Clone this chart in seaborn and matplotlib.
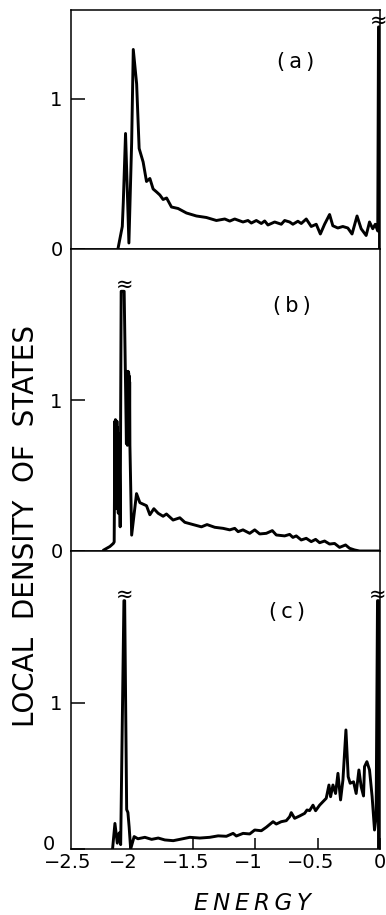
import matplotlib
matplotlib.use("Agg")
import matplotlib.pyplot as plt
import matplotlib.transforms as mtrans
import pandas as pd
import seaborn as sns

sns.set_theme(style="white")
plt.rcParams['font.family'] = ['DejaVu Sans']
plt.rcParams['text.color'] = 'black'
plt.rcParams['axes.labelcolor'] = 'black'
plt.rcParams['xtick.color'] = 'black'
plt.rcParams['ytick.color'] = 'black'

# ---------------- data ----------------
energy_a = [-2.100, -2.065, -2.057, -2.039, -2.012, -1.990, -1.977, -1.950, -1.930, -1.898,
            -1.871, -1.844, -1.818, -1.790, -1.764, -1.738, -1.710, -1.671, -1.618, -1.551,
            -1.471, -1.391, -1.311, -1.244, -1.204, -1.164, -1.098, -1.058, -1.031, -0.991,
            -0.951, -0.924, -0.898, -0.844, -0.791, -0.764, -0.724, -0.698, -0.658, -0.631,
            -0.591, -0.551, -0.511, -0.478, -0.444, -0.404, -0.378, -0.338, -0.298, -0.258,
            -0.224, -0.184, -0.151, -0.111, -0.084, -0.058, -0.038, -0.018, -0.012, -0.004,
            -0.004]
dos_a = [0.0, 0.15, 0.31, 0.77, 0.04, 0.71, 1.33, 1.10, 0.67, 0.58,
         0.45, 0.47, 0.40, 0.38, 0.36, 0.33, 0.34, 0.28, 0.27, 0.24,
         0.22, 0.21, 0.19, 0.20, 0.186, 0.20, 0.18, 0.19, 0.173, 0.19,
         0.17, 0.187, 0.16, 0.18, 0.165, 0.19, 0.18, 0.165, 0.185, 0.17,
         0.20, 0.15, 0.165, 0.10, 0.165, 0.23, 0.155, 0.14, 0.15, 0.14,
         0.10, 0.22, 0.135, 0.09, 0.18, 0.135, 0.165, 0.12, 1.48, 1.48,
         0.0]

energy_b = [-2.217, -2.164, -2.137, -2.130, -2.124, -2.122, -2.120, -2.118, -2.116, -2.114,
            -2.112, -2.110, -2.108, -2.106, -2.104, -2.102, -2.100, -2.097, -2.094, -2.091,
            -2.088, -2.082, -2.074, -2.050, -2.032, -2.030, -2.028, -2.026, -2.024, -2.022,
            -2.020, -2.018, -2.016, -2.014, -2.012, -2.010, -2.008, -2.006, -2.004, -1.990,
            -1.951, -1.924, -1.871, -1.844, -1.812, -1.778, -1.738, -1.711, -1.658, -1.604,
            -1.564, -1.498, -1.431, -1.386, -1.324, -1.257, -1.204, -1.164, -1.137, -1.098,
            -1.044, -1.004, -0.964, -0.911, -0.863, -0.831, -0.764, -0.724, -0.698, -0.671,
            -0.631, -0.591, -0.551, -0.516, -0.484, -0.444, -0.404, -0.364, -0.324, -0.276,
            -0.244, -0.204, -0.164, 0.0]
dos_b = [0.005, 0.03, 0.05, 0.06, 0.86, 0.35, 0.87, 0.30, 0.85, 0.28,
         0.84, 0.32, 0.86, 0.30, 0.82, 0.32, 0.78, 0.25, 0.72, 0.30,
         0.60, 0.16, 1.72, 1.72, 0.71, 1.19, 0.72, 1.18, 0.70, 1.17,
         0.72, 1.19, 0.74, 1.18, 0.72, 1.16, 0.75, 1.12, 0.70, 0.105,
         0.38, 0.32, 0.30, 0.24, 0.28, 0.25, 0.23, 0.245, 0.205, 0.22,
         0.19, 0.175, 0.16, 0.175, 0.157, 0.15, 0.14, 0.15, 0.128, 0.14,
         0.117, 0.14, 0.113, 0.117, 0.135, 0.106, 0.10, 0.11, 0.09, 0.10,
         0.073, 0.084, 0.062, 0.077, 0.055, 0.066, 0.046, 0.05, 0.024, 0.04,
         0.018, 0.007, 0.0, 0.0]

energy_c = [-2.143, -2.124, -2.105, -2.090, -2.078, -2.052, -2.046, -2.030, -2.020, -2.010,
            -1.998, -1.970, -1.940, -1.884, -1.830, -1.777, -1.724, -1.657, -1.604, -1.524,
            -1.444, -1.364, -1.297, -1.231, -1.177, -1.151, -1.097, -1.044, -1.004, -0.951,
            -0.911, -0.857, -0.831, -0.791, -0.751, -0.724, -0.711, -0.684, -0.644, -0.604,
            -0.585, -0.564, -0.537, -0.516, -0.484, -0.457, -0.431, -0.409, -0.396, -0.377,
            -0.356, -0.337, -0.316, -0.297, -0.273, -0.255, -0.239, -0.212, -0.191, -0.169,
            -0.151, -0.132, -0.124, -0.105, -0.084, -0.063, -0.044, -0.031, -0.020, -0.012,
            -0.012]
dos_c = [0.0, 0.175, 0.04, 0.11, 0.03, 1.70, 1.70, 0.27, 0.25, 0.15,
         0.0, 0.085, 0.07, 0.08, 0.066, 0.075, 0.062, 0.057, 0.066, 0.08,
         0.075, 0.08, 0.09, 0.087, 0.107, 0.089, 0.107, 0.103, 0.13, 0.125,
         0.149, 0.187, 0.171, 0.187, 0.194, 0.221, 0.249, 0.21, 0.226, 0.244,
         0.267, 0.263, 0.30, 0.262, 0.30, 0.324, 0.347, 0.438, 0.358, 0.438,
         0.38, 0.518, 0.336, 0.473, 0.815, 0.495, 0.45, 0.46, 0.38, 0.541,
         0.427, 0.363, 0.564, 0.598, 0.541, 0.358, 0.13, 0.221, 1.70, 1.70,
         0.0]

panel_names = ["(\u2009a\u2009)", "(\u2009b\u2009)", "(\u2009c\u2009)"]
xtick_values = [-2.0, -1.5, -1.0, -0.5, 0.0]
xtick_labels = ["\u22122", "\u22121.5", "\u22121", "\u22120.5", "0"]
ytick_values = [0, 1]
ytick_labels = ["0", "1"]

# ---------------- layout ----------------
W, H = 386, 915
fig = plt.figure(figsize=(W / 100, H / 100), dpi=100)

left_px, right_px = 71, 380
panels_px = [(10, 249, 1.593), (249, 551, 2.0), (551, 849, 2.04)]
xmin = -2.476

series = [(energy_a, dos_a), (energy_b, dos_b), (energy_c, dos_c)]
label_pos = [(-0.676, 1.247), (-0.708, 1.62), (-0.748, 1.62)]
breaks = [[(-0.012, 1.52)], [(-2.046, 1.76)], [(-2.048, 1.74), (-0.02, 1.74)]]

axes = []
for i, ((top, bot, ymax), (ex, dy)) in enumerate(zip(panels_px, series)):
    ax = fig.add_axes([left_px / W, 1 - bot / H, (right_px - left_px) / W, (bot - top) / H])
    df = pd.DataFrame({"energy": ex, "dos": dy})
    sns.lineplot(data=df, x="energy", y="dos", ax=ax, color="black", linewidth=2.1,
                 sort=False, estimator=None)
    ax.set_xlim(xmin, 0.0)
    ax.set_ylim(0, ymax)
    ax.set_xlabel("")
    ax.set_ylabel("")
    for sp in ax.spines.values():
        sp.set_color("black")
        sp.set_linewidth(1.1)
        sp.set_visible(True)
    ax.set_yticks(ytick_values)
    ax.set_yticklabels(ytick_labels)
    ax.tick_params(axis="y", direction="in", length=10, width=1.1, pad=6,
                   labelsize=14, colors="black", left=True)
    if i < 2:
        ax.set_xticks(xtick_values)
        ax.tick_params(axis="x", length=0, labelbottom=False)
    else:
        ax.set_xticks(xtick_values)
        ax.set_xticklabels(xtick_labels)
        ax.tick_params(axis="x", direction="in", length=8, width=1.1, pad=3,
                       labelsize=14, colors="black", bottom=True)
        for lab, v in zip(ax.get_xticklabels(), xtick_values):
            if v < 0:
                lab.set_transform(lab.get_transform() +
                                  mtrans.ScaledTranslation(-7 / 100, 0, fig.dpi_scale_trans))
        ylabs = ax.get_yticklabels()
        ylabs[0].set_transform(ylabs[0].get_transform() +
                               mtrans.ScaledTranslation(-8 / 100, 6 / 100, fig.dpi_scale_trans))
        trans = mtrans.offset_copy(ax.get_xaxis_transform(), fig=fig, y=-3, units="points")
        ax.text(-2.5, 0, "\u22122.5", transform=trans, ha="center", va="top",
                fontsize=14, clip_on=False)
    ax.text(label_pos[i][0], label_pos[i][1], panel_names[i], fontsize=15,
            ha="center", va="center")
    for bx, by in breaks[i]:
        ax.text(bx, by, "\u2248", fontsize=15, ha="center", va="center", clip_on=False)
    axes.append(ax)

fig.text(26 / W, 1 - 526 / H, "LOCAL  DENSITY  OF  STATES", rotation=90,
         fontsize=20, ha="center", va="center")
fig.text(252 / W, (H - 910) / H, "E\u2009N\u2009E\u2009R\u2009G\u2009Y", style="italic",
         fontsize=16.5, ha="center", va="baseline")

fig.savefig("out.png", dpi=100)
